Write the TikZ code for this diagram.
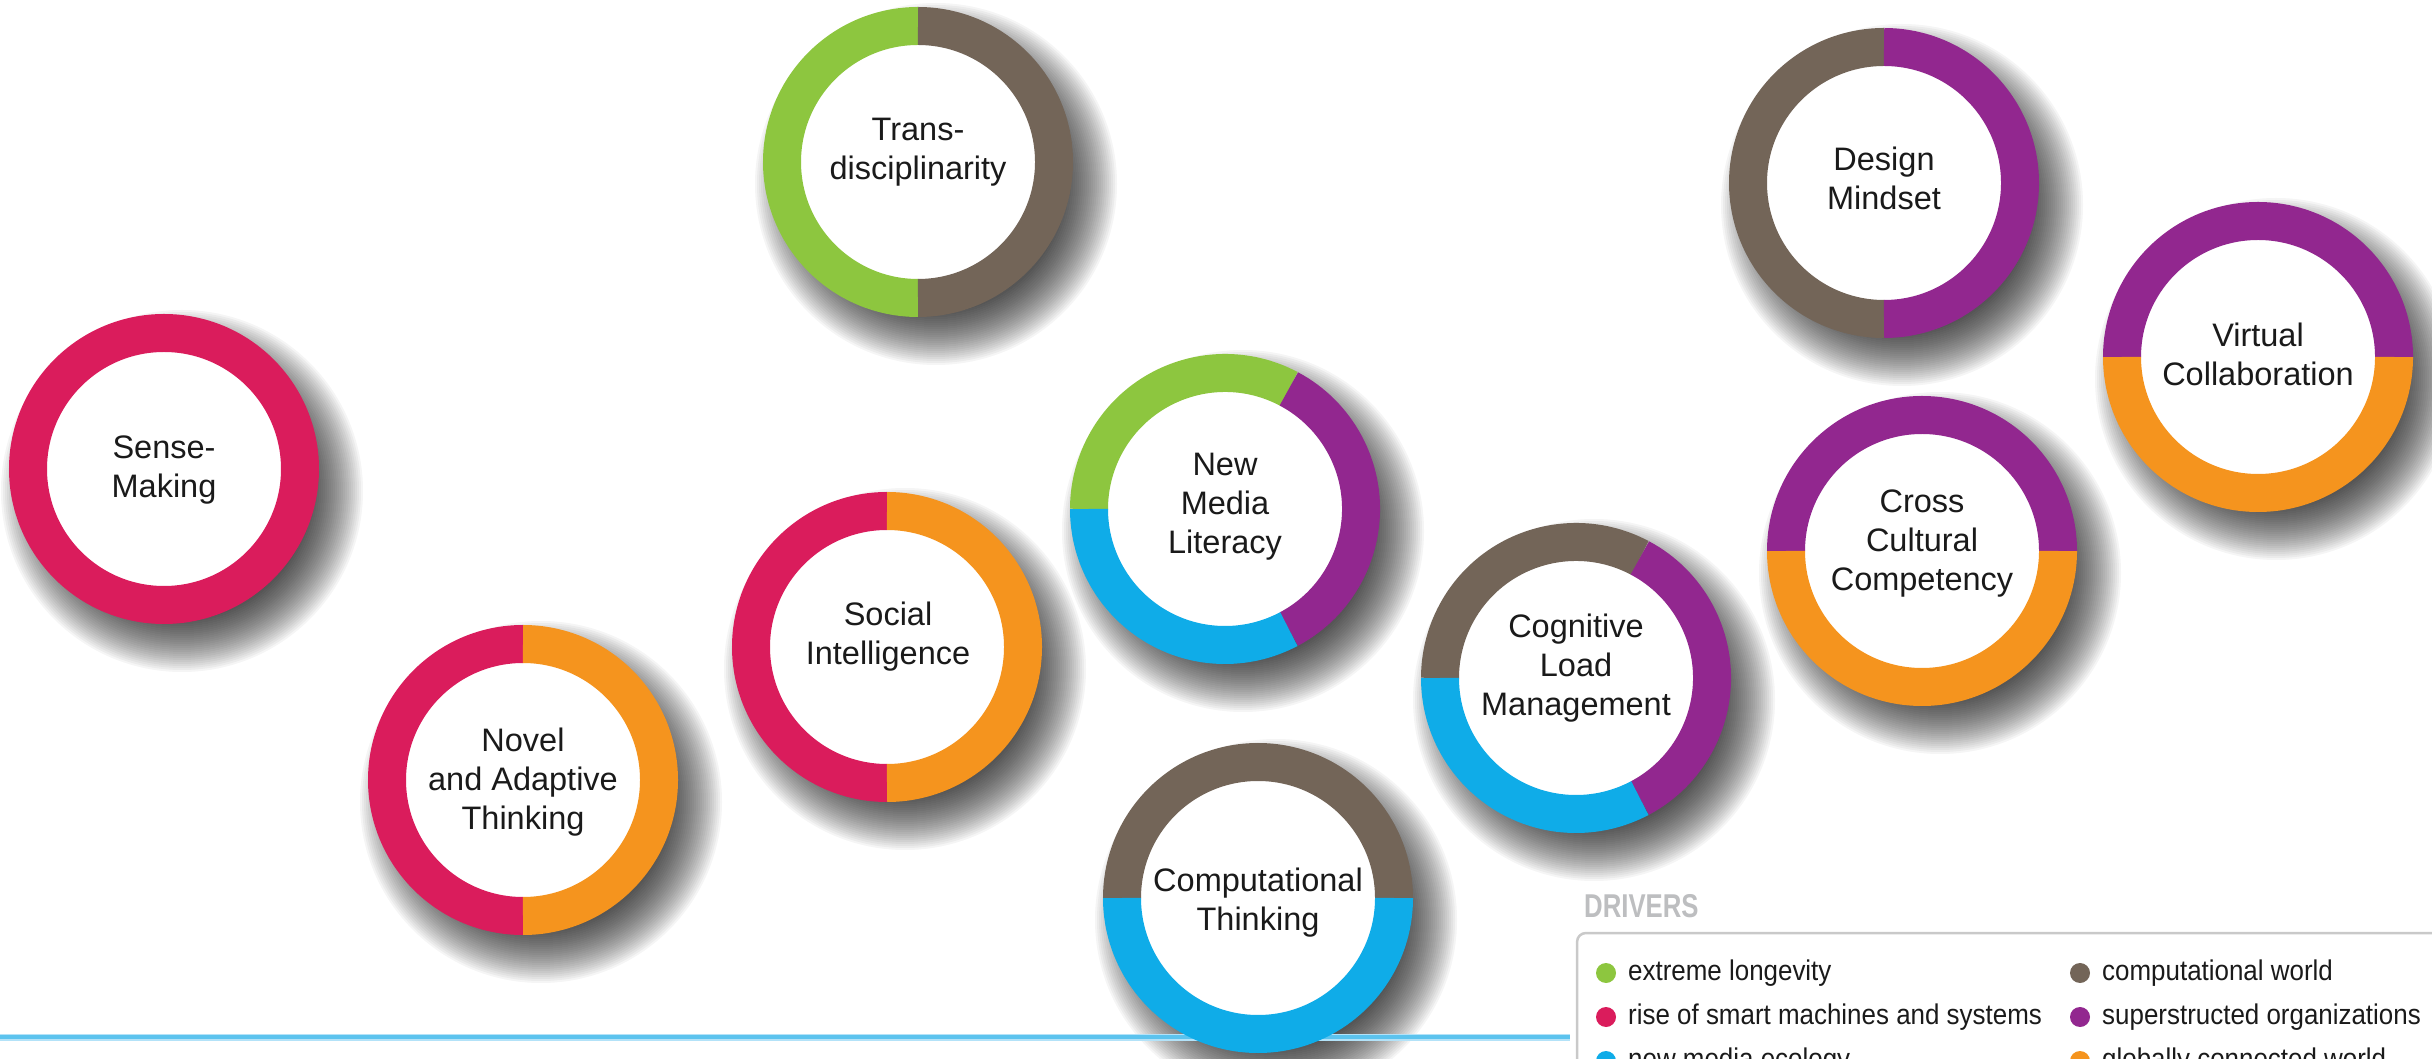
\documentclass[tikz,border=0pt]{standalone}
\usepackage{fontspec}
\setmainfont{Liberation Sans}
\definecolor{cgreen}{HTML}{8DC63F}
\definecolor{cpink}{HTML}{DA1C5C}
\definecolor{corange}{HTML}{F5941E}
\definecolor{cbrown}{HTML}{736558}
\definecolor{cpurple}{HTML}{92278F}
\definecolor{cblue}{HTML}{0FACE8}
\definecolor{txt}{HTML}{1A1A1A}
\definecolor{dgray}{HTML}{BDBEC0}
\definecolor{bgray}{HTML}{C9C9C9}
\definecolor{lineblue}{HTML}{5CC3EE}
\definecolor{lineblueedge}{HTML}{B3E2F8}
\tikzset{
  skill/.style={align=center, font=\fontsize{32.5}{39}\selectfont, text=txt, inner sep=0pt},
  legtext/.style={anchor=base west, font=\fontsize{28.5}{32}\selectfont, text=txt, inner sep=0pt},
  legdot/.style={circle, minimum size=20pt, inner sep=0pt},
  ringseg/.style={line width=38pt},
}
\newcommand{\rseg}[5]{\draw[ringseg,#5] (#1,#2) ++(#3:136) arc[start angle=#3, end angle=#4, radius=136];}
\newcommand{\legnarrow}[1]{\scalebox{0.91}[1]{#1}}
\begin{document}
\begin{tikzpicture}[x=1pt,y=1pt]
\useasboundingbox (0,0) rectangle (2432,1058);
\begin{scope}
\clip (0,0) rectangle (2432,1058);
% soft drop shadows
\foreach \cx/\cy in {164/589, 523/278, 887/411, 918/896, 1225/549, 1258/160, 1576/380, 1884/875, 1922/507, 2258/701}{
  \foreach \i in {0,...,28}{
    \fill[black, opacity=0.038] (\cx+18,\cy-22) circle ({125+2*\i});
  }
}
% blue rule
\coordinate (ruleL) at (0,21);
\coordinate (ruleR) at (1570,21);
\draw[lineblueedge, line width=7pt] (ruleL) -- (ruleR);
\draw[lineblue, line width=3.5pt] (ruleL) -- (ruleR);
% white discs
\foreach \cx/\cy in {164/589, 523/278, 887/411, 918/896, 1225/549, 1258/160, 1576/380, 1884/875, 1922/507, 2258/701}{
  \fill[white] (\cx,\cy) circle (120);
}
% rings
\rseg{164}{589}{0}{360}{cpink}
\rseg{523}{278}{90}{270}{cpink}
\rseg{523}{278}{-90}{90}{corange}
\rseg{887}{411}{90}{270}{cpink}
\rseg{887}{411}{-90}{90}{corange}
\rseg{918}{896}{90}{270}{cgreen}
\rseg{918}{896}{-90}{90}{cbrown}
\rseg{1225}{549}{62}{180}{cgreen}
\rseg{1225}{549}{-62}{62}{cpurple}
\rseg{1225}{549}{180}{298}{cblue}
\rseg{1258}{160}{0}{180}{cbrown}
\rseg{1258}{160}{180}{360}{cblue}
\rseg{1576}{380}{62}{180}{cbrown}
\rseg{1576}{380}{-62}{62}{cpurple}
\rseg{1576}{380}{180}{298}{cblue}
\rseg{1884}{875}{90}{270}{cbrown}
\rseg{1884}{875}{-90}{90}{cpurple}
\rseg{1922}{507}{0}{180}{cpurple}
\rseg{1922}{507}{180}{360}{corange}
\rseg{2258}{701}{0}{180}{cpurple}
\rseg{2258}{701}{180}{360}{corange}
% labels
\node[skill] (sense) at (164,588) {Sense-\\Making};
\node[skill] (novel) at (523,276) {Novel\\and Adaptive\\Thinking};
\node[skill] (social) at (888,421) {Social\\Intelligence};
\node[skill] (trans) at (918,906) {Trans-\\disciplinarity};
\node[skill] (media) at (1225,551) {New\\Media\\Literacy};
\node[skill] (comput) at (1258,155) {Computational\\Thinking};
\node[skill] (cogn) at (1576,390) {Cognitive\\Load\\Management};
\node[skill] (design) at (1884,880) {Design\\Mindset};
\node[skill] (cross) at (1922,514) {Cross\\Cultural\\Competency};
\node[skill] (virtual) at (2258,704) {Virtual\\Collaboration};
% legend
\node[anchor=base west, inner sep=0pt, font=\bfseries\fontsize{33}{36}\selectfont, text=dgray] (drivers) at (1584,141) {\scalebox{0.78}[1]{DRIVERS}};
\draw[bgray, line width=2.5pt, rounded corners=9pt] (1577,-30) -- (1577,125) -- (2460,125);
\node[legdot, fill=cgreen] (d1) at (1606,85) {};
\node[legdot, fill=cpink] (d2) at (1606,41) {};
\node[legdot, fill=cblue] (d3) at (1606,-3) {};
\node[legdot, fill=cbrown] (d4) at (2080,85) {};
\node[legdot, fill=cpurple] (d5) at (2080,41) {};
\node[legdot, fill=corange] (d6) at (2080,-3) {};
\node[legtext] (t1) at (1628,78) {\legnarrow{extreme longevity}};
\node[legtext] (t2) at (1628,34) {\legnarrow{rise of smart machines and systems}};
\node[legtext] (t3) at (1628,-10) {\legnarrow{new media ecology}};
\node[legtext] (t4) at (2102,78) {\legnarrow{computational world}};
\node[legtext] (t5) at (2102,34) {\legnarrow{superstructed organizations}};
\node[legtext] (t6) at (2102,-10) {\legnarrow{globally connected world}};
\end{scope}
\end{tikzpicture}
\end{document}
